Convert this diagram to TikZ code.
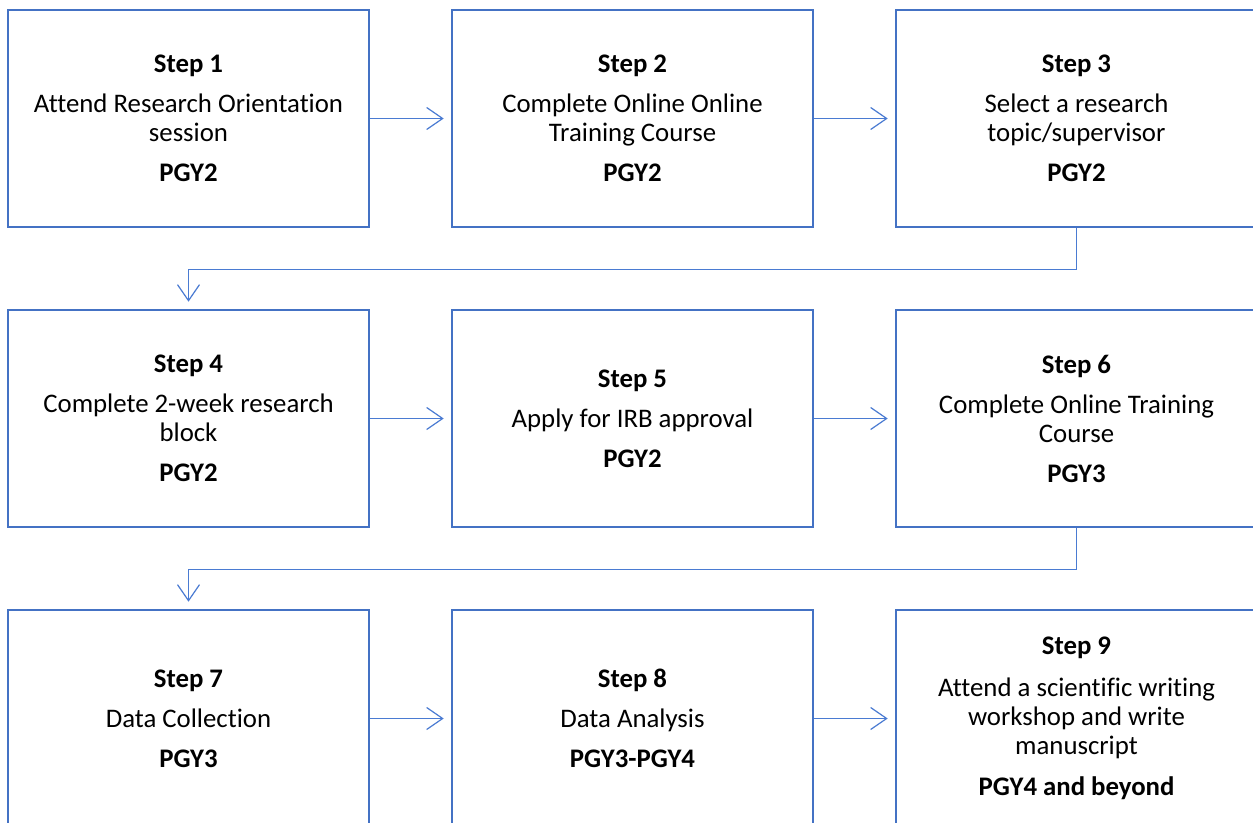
\documentclass[tikz,border=0pt]{standalone}
\usepackage{fontspec}
\setmainfont{Carlito}[Ligatures={NoCommon}]
\usetikzlibrary{arrows.meta}
\definecolor{boxblue}{HTML}{4472C4}
\definecolor{lineblue}{HTML}{4A7BD2}
\tikzset{
  stepbox/.style={draw=boxblue, line width=2.6pt, minimum width=361pt, minimum height=217pt, inner sep=0pt, fill=white},
  steptext/.style={align=center, inner sep=0pt, font=\fontsize{26.8}{29}\selectfont},
  flow/.style={draw=lineblue, line width=1.2pt, -{Straight Barb[length=16pt, width=22pt, line width=1.2pt]}, shorten >=7pt},
}
\begin{document}
\begin{tikzpicture}[x=1pt, y=-1pt]
\useasboundingbox (0,0) rectangle (1253,822);
\clip (0,0) rectangle (1253,822);
\fill[white] (0,0) rectangle (1253,822);
% boxes
\node[stepbox] (b1) at (188.5,118.5) {};
\node[stepbox] (b2) at (632.5,118.5) {};
\node[stepbox] (b3) at (1076.5,118.5) {};
\node[stepbox] (b4) at (188.5,418.5) {};
\node[stepbox] (b5) at (632.5,418.5) {};
\node[stepbox] (b6) at (1076.5,418.5) {};
\node[stepbox] (b7) at (188.5,718.5) {};
\node[stepbox] (b8) at (632.5,718.5) {};
\node[stepbox] (b9) at (1076.5,718.5) {};
% texts
\node[steptext] (t1) at (b1) {\textbf{Step 1}\\[11pt]Attend Research Orientation\\session\\[11pt]\textbf{PGY2}};
\node[steptext] (t2) at (b2) {\textbf{Step 2}\\[11pt]Complete Online Online\\Training Course\\[11pt]\textbf{PGY2}};
\node[steptext] (t3) at (b3) {\textbf{Step 3}\\[11pt]Select a research\\topic/supervisor\\[11pt]\textbf{PGY2}};
\node[steptext] (t4) at (b4) {\textbf{Step 4}\\[11pt]Complete 2-week research\\block\\[11pt]\textbf{PGY2}};
\node[steptext] (t5) at (b5) {\textbf{Step 5}\\[11pt]Apply for IRB approval\\[11pt]\textbf{PGY2}};
\node[steptext] (t6) at (b6) {\textbf{Step 6}\\[11pt]Complete Online Training\\Course\\[11pt]\textbf{PGY3}};
\node[steptext] (t7) at (b7) {\textbf{Step 7}\\[11pt]Data Collection\\[11pt]\textbf{PGY3}};
\node[steptext] (t8) at (b8) {\textbf{Step 8}\\[11pt]Data Analysis\\[11pt]\textbf{PGY3-PGY4}};
\node[steptext] (t9) at (b9) {\textbf{Step 9}\\[13pt]Attend a scientific writing\\workshop and write\\manuscript\\[12pt]\textbf{PGY4 and beyond}};
% connectors
\draw[flow] (b1.east) -- (b2.west);
\draw[flow] (b2.east) -- (b3.west);
\draw[flow] (b4.east) -- (b5.west);
\draw[flow] (b5.east) -- (b6.west);
\draw[flow] (b7.east) -- (b8.west);
\draw[flow] (b8.east) -- (b9.west);
\draw[flow] (b3.south) -- ++(0,41) -| (b4.north);
\draw[flow] (b6.south) -- ++(0,41) -| (b7.north);
\end{tikzpicture}
\end{document}
